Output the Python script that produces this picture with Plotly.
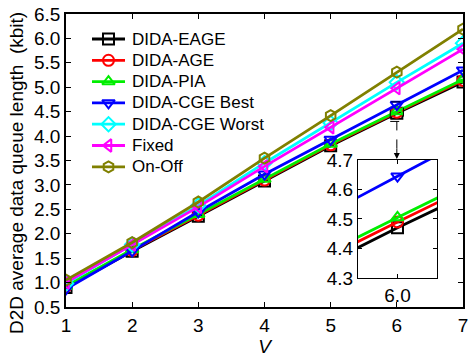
import plotly.graph_objects as go

# V values and average D2D data queue length (kbit) for each scheme
v = [1, 2, 3, 4, 5, 6, 7]
names = ["DIDA-EAGE", "DIDA-AGE", "DIDA-PIA", "DIDA-CGE Best",
         "DIDA-CGE Worst", "Fixed", "On-Off"]
eage = [0.90, 1.64, 2.36, 3.08, 3.80, 4.47, 5.11]
age = [0.92, 1.66, 2.38, 3.10, 3.82, 4.49, 5.14]
pia = [0.93, 1.68, 2.40, 3.12, 3.84, 4.505, 5.16]
cge_best = [0.87, 1.65, 2.45, 3.22, 3.93, 4.645, 5.35]
cge_worst = [0.98, 1.78, 2.58, 3.45, 4.27, 5.10, 5.90]
fixed = [1.00, 1.78, 2.55, 3.38, 4.18, 4.98, 5.78]
onoff = [1.05, 1.82, 2.65, 3.55, 4.42, 5.31, 6.19]

series = [eage, age, pia, cge_best, cge_worst, fixed, onoff]
colors = ["#000000", "#ff0000", "#00ee00", "#0000ff", "#00ffff", "#ff00ff", "#808000"]
symbols = ["square-open", "circle-open", "triangle-up-open", "triangle-down-open",
           "diamond-open", "triangle-left-open", "hexagon-open"]

y_ticks = [0.5 + 0.5 * i for i in range(13)]
inset_y_ticks = [4.3, 4.4, 4.5, 4.6, 4.7]

FONT = "Arial, Liberation Sans, sans-serif"
W, H = 469, 362
ML, MR, MT, MB = 66, 6, 14, 55
PW, PH = W - ML - MR, H - MT - MB

LW = 2.8
MS = 11


def style(c, s):
    return dict(line=dict(color=c, width=LW),
                marker=dict(symbol=s, size=MS, color=c, line=dict(color=c, width=2)))


fig = go.Figure()
for name, ys, c, s in zip(names, series, colors, symbols):
    fig.add_trace(go.Scatter(x=v, y=ys, name=name, mode="lines+markers",
                             showlegend=False, xaxis="x", yaxis="y", **style(c, s)))

# zoomed view around V = 6 (only the lower four schemes fall inside it)
for ys, c, s in zip(series[:4], colors[:4], symbols[:4]):
    fig.add_trace(go.Scatter(x=v, y=ys, mode="lines+markers", showlegend=False,
                             xaxis="x2", yaxis="y2", **style(c, s)))

# legend keys drawn on a hidden pixel-scaled overlay so the row spacing can be set
key_x0, key_x1, text_x = 92, 125, 130
row_y0, row_dy = 39, 21.3
for i, (name, c, s) in enumerate(zip(names, colors, symbols)):
    yy = row_y0 + i * row_dy
    fig.add_trace(go.Scatter(x=[key_x0, key_x1], y=[yy, yy], mode="lines",
                             line=dict(color=c, width=LW), showlegend=False,
                             xaxis="x3", yaxis="y3", hoverinfo="skip"))
    fig.add_trace(go.Scatter(x=[(key_x0 + key_x1) / 2], y=[yy], mode="markers",
                             marker=style(c, s)["marker"], showlegend=False,
                             xaxis="x3", yaxis="y3", hoverinfo="skip"))
    fig.add_annotation(x=text_x, y=yy, xref="x3", yref="y3", text=name,
                       showarrow=False, xanchor="left", yanchor="middle",
                       font=dict(family=FONT, size=17, color="black"))

# y-axis title, placed slightly below the plot's vertical centre
title_px, title_py = 16, 173
fig.add_annotation(x=(title_px - ML) / PW, y=(H - MB - title_py) / PH,
                   xref="paper", yref="paper",
                   text="D2D average data queue length\u00a0 (kbit)",
                   textangle=-90, showarrow=False, xanchor="center", yanchor="middle",
                   font=dict(family=FONT, size=19, color="black"))

axis_common = dict(showgrid=False, zeroline=False, showline=True, linecolor="black",
                   linewidth=1.5, ticks="inside", ticklen=5, tickcolor="black",
                   mirror="ticks", automargin=False,
                   tickfont=dict(family=FONT, size=19, color="black"))
inset_axis = {**axis_common, "linewidth": 1.2, "ticklen": 4}

fig.update_layout(
    width=W, height=H,
    margin=dict(l=ML, r=MR, t=MT, b=MB),
    paper_bgcolor="white", plot_bgcolor="white",
    font=dict(family=FONT, color="black"),
    showlegend=False,
    xaxis=dict(range=[1, 7], tickvals=v, domain=[0, 1],
               title=dict(text="<i>V</i>", font=dict(family=FONT, size=19), standoff=4),
               **axis_common),
    yaxis=dict(range=[0.5, 6.5], tickvals=y_ticks, tickformat=".1f", domain=[0, 1],
               **axis_common),
    xaxis2=dict(range=[5.9, 6.1], tickvals=[6.0], tickformat=".1f",
                domain=[0.7355, 0.9345], anchor="y2", **inset_axis),
    yaxis2=dict(range=[4.3, 4.7], tickvals=inset_y_ticks, tickformat=".1f",
                domain=[0.099, 0.502], anchor="x2", **inset_axis),
    xaxis3=dict(range=[ML, W - MR], overlaying="x", visible=False, fixedrange=True),
    yaxis3=dict(range=[H - MB, MT], overlaying="y", visible=False, fixedrange=True),
)

# dashed box marking the zoomed region and the pointer down to the inset
fig.add_shape(type="rect", xref="x", yref="y", x0=5.9, x1=6.1, y0=4.3, y1=4.7,
              line=dict(color="black", width=1, dash="dash"))
fig.add_shape(type="line", xref="x", yref="y", x0=6.0, x1=6.0, y0=4.3, y1=3.62,
              line=dict(color="black", width=1, dash="dash"))
fig.add_annotation(x=6.0, y=3.53, xref="x", yref="y", ax=0, ay=-12, text="",
                   showarrow=True, arrowhead=2, arrowsize=1.2, arrowwidth=1,
                   arrowcolor="black")

fig.write_html("out.html")
